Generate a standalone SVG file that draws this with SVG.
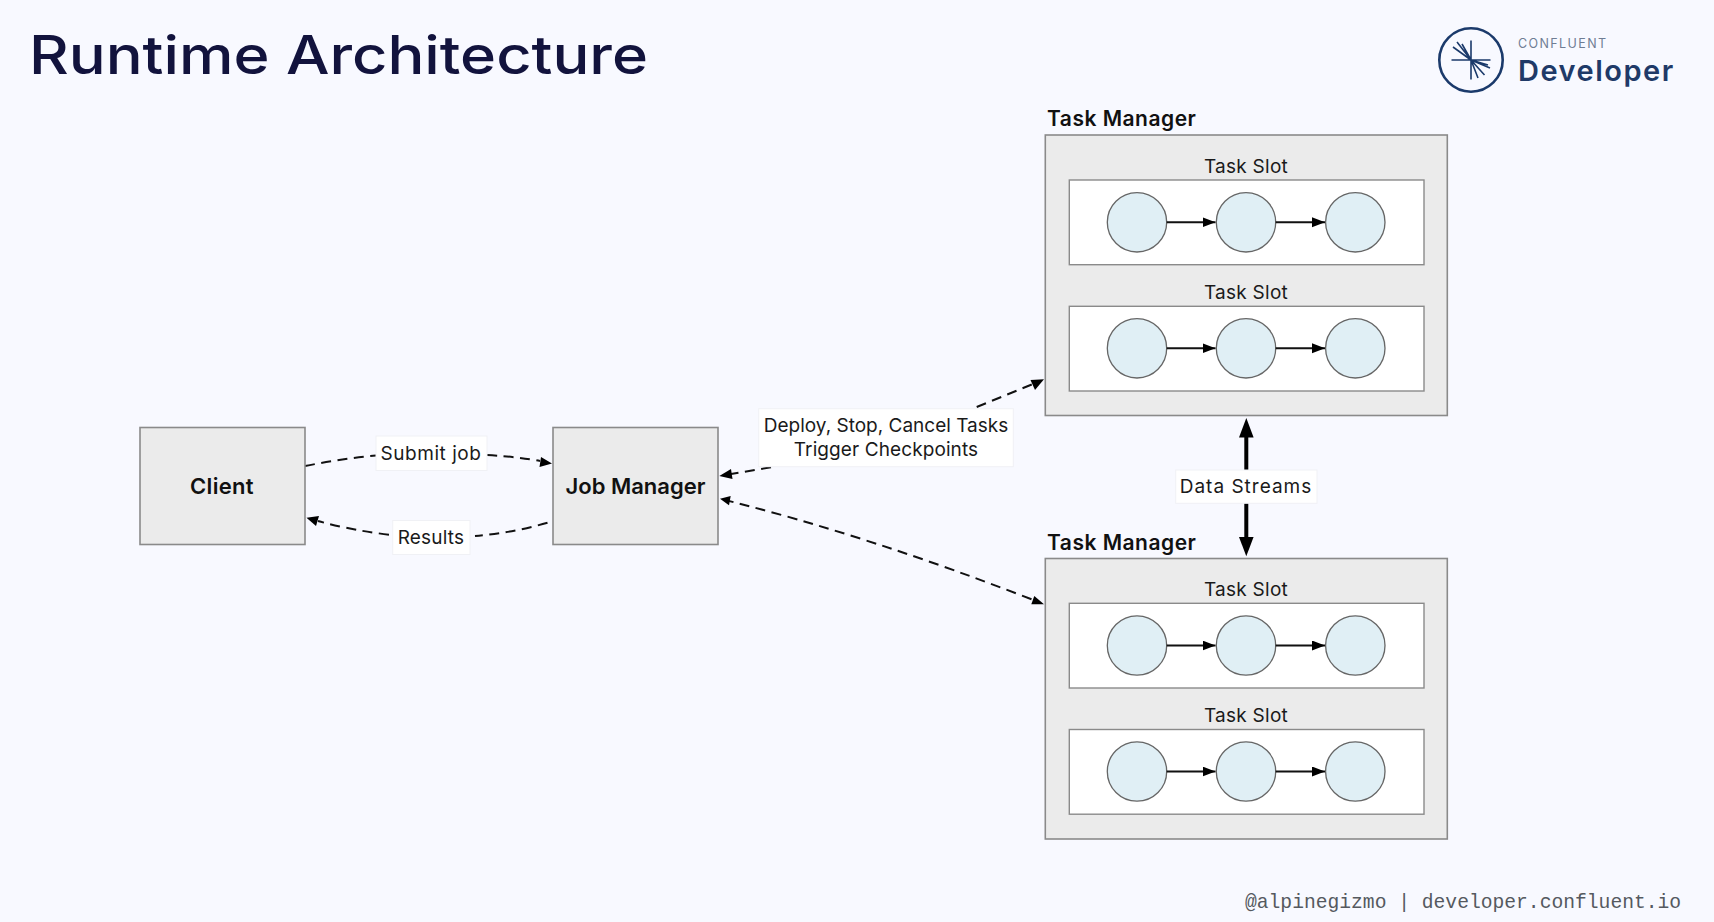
<svg xmlns="http://www.w3.org/2000/svg" width="1714" height="922" viewBox="0 0 1714 922">
<style>
text{font-family:"Inter","Liberation Sans",sans-serif;fill:#1a1a1a}
.title{font-size:53px;font-weight:500;fill:#12133d}
.b{fill:#ebebeb;stroke:#8a8a8a;stroke-width:1.6}
.slot{fill:#fff;stroke:#8a8a8a;stroke-width:1.4}
.c{fill:#e0eff5;stroke:#666;stroke-width:1.3}
.h{font-size:21px;font-weight:600;fill:#111;letter-spacing:.5px}
.n{font-size:22px;font-weight:600;fill:#111;text-anchor:middle}
.l{font-size:19px;text-anchor:middle}
.ts{letter-spacing:.25px}
.lab{fill:#fff;stroke:#f0f1f5;stroke-width:1}
.d{fill:none;stroke:#111;stroke-width:2;stroke-dasharray:10 6.5}
.s{stroke:#111;stroke-width:2;fill:none;marker-end:url(#a)}
.t{stroke:#000;stroke-width:4;fill:none}
.r{stroke:#1b3a6b;stroke-width:1.6}
</style>
<defs>
<marker id="a" markerUnits="userSpaceOnUse" markerWidth="14" markerHeight="12" refX="13" refY="5" orient="auto-start-reverse"><path d="M0 0L13 5L0 10z" fill="#000"/></marker>
<g id="pipe">
<circle class="c" cx="1137" cy="0" r="29.7"/><circle class="c" cx="1246" cy="0" r="29.7"/><circle class="c" cx="1355.3" cy="0" r="29.7"/>
<path class="s" d="M1166.7 0H1215.5"/><path class="s" d="M1275.7 0H1325"/>
</g>
</defs>
<rect width="1714" height="922" fill="#f8f9ff"/>
<text class="title" x="29" y="73.500" textLength="619" lengthAdjust="spacingAndGlyphs">Runtime Architecture</text>
<g id="logo">
<circle cx="1471" cy="60" r="31.7" fill="none" stroke="#1b3a6b" stroke-width="2.6"/>
<path class="r" d="M1471 40.500V79.500M1451.500 60H1490.500M1471 60L1453 47M1471 60L1457 42M1471 60L1462 44M1471 60L1490 68M1471 60L1484.500 75M1471 60L1478 78M1471 60L1488 65"/>
<text x="1518" y="47.500" style="font-size:12.500px;letter-spacing:1.400px;fill:#6f7d94">CONFLUENT</text>
<text x="1518" y="80.500" style="font-size:29px;font-weight:600;letter-spacing:1.500px;fill:#1f3a68">Developer</text>
</g>
<g id="connectors">
<path class="d" d="M305 466Q340 459 376 455.500"/>
<path class="d" d="M487 455Q520 457 540 461"/><path d="M552 463.500L539.500 467L541 457z" fill="#000"/>
<path class="d" d="M547.500 522.700Q512 533 475 536"/>
<path class="d" d="M389 534.700Q350 530 318 521"/><path d="M306.500 517.700L319 516L316 526z" fill="#000"/>
<path class="d" d="M976.700 407L1033 384"/><path d="M1044 379.300L1035 390L1030.500 380z" fill="#000"/>
<path class="d" d="M771 467.300L731 474"/><path d="M719.300 476L731 469L732.500 479z" fill="#000"/>
<path class="d" d="M724 499.700Q868.600 535.800 1036 601"/>
<path d="M720 498.700L730.700 496L729 505.300z" fill="#000"/>
<path d="M1044 604.300L1031.300 604.300L1034.300 596z" fill="#000"/>
<path class="t" d="M1246.300 437V470M1246.300 503V538"/>
<path d="M1246.300 418L1253.600 437.500H1239z" fill="#000"/>
<path d="M1246.300 556.300L1253.600 537H1239z" fill="#000"/>
</g>
<g id="client"><rect class="b" x="140" y="427.500" width="165" height="117"/><text class="n" x="222" y="494" style="letter-spacing:.3px">Client</text></g>
<g id="job-manager"><rect class="b" x="553" y="427.500" width="165" height="117"/><text class="n" x="635.500" y="494">Job Manager</text></g>
<g id="label-submit"><rect class="lab" x="376" y="436" width="111" height="34.500"/><text class="l" x="431" y="460" style="letter-spacing:.55px">Submit job</text></g>
<g id="label-results"><rect class="lab" x="392.700" y="520.500" width="77.300" height="34"/><text class="l" x="431" y="543.500" style="letter-spacing:.2px">Results</text></g>
<g id="label-deploy"><rect class="lab" x="758.700" y="408.700" width="254.600" height="58"/><text class="l" x="886" y="432">Deploy, Stop, Cancel Tasks</text><text class="l" x="886" y="456" style="letter-spacing:.1px">Trigger Checkpoints</text></g>
<g id="label-streams"><rect class="lab" x="1175.700" y="470" width="141.300" height="33.300"/><text class="l" x="1246" y="493" style="letter-spacing:1px">Data Streams</text></g>
<g id="task-manager-1">
<text class="h" x="1047" y="126">Task Manager</text>
<rect class="b" x="1045.300" y="135" width="402" height="280.500"/>
<text class="l ts" x="1246" y="173">Task Slot</text>
<rect class="slot" x="1069.300" y="180" width="354.700" height="84.700"/><use href="#pipe" y="222.300"/>
<text class="l ts" x="1246" y="299.300">Task Slot</text>
<rect class="slot" x="1069.300" y="306.300" width="354.700" height="84.700"/><use href="#pipe" y="348.300"/>
</g>
<g id="task-manager-2">
<text class="h" x="1047" y="549.500">Task Manager</text>
<rect class="b" x="1045.300" y="558.500" width="402" height="280.500"/>
<text class="l ts" x="1246" y="596">Task Slot</text>
<rect class="slot" x="1069.300" y="603.300" width="354.700" height="84.700"/><use href="#pipe" y="645.500"/>
<text class="l ts" x="1246" y="722.300">Task Slot</text>
<rect class="slot" x="1069.300" y="729.500" width="354.700" height="84.700"/><use href="#pipe" y="771.500"/>
</g>
<text x="1245" y="908" style="font-family:'Liberation Mono',monospace;font-size:19.650px;fill:#55595f">@alpinegizmo | developer.confluent.io</text>
</svg>
